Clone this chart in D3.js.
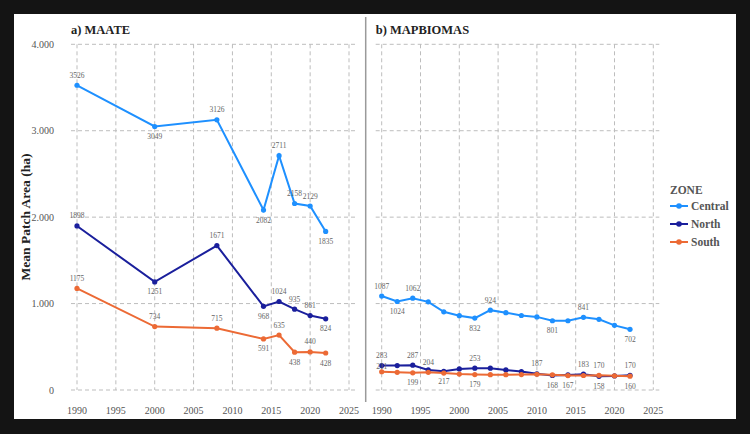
<!DOCTYPE html>
<html>
<head>
<meta charset="utf-8">
<script src="https://cdn.jsdelivr.net/npm/d3@7"></script>
<style>
  body { margin: 0; background: #141414; }
  svg { display: block; }
</style>
</head>
<body>
<svg id="chart" width="750" height="434"></svg>
<script>
// MAATE data
var maateYears = [1990, 2000, 2008, 2014, 2016, 2018, 2020, 2022];
var maateCentral = [3526, 3049, 3126, 2082, 2711, 2158, 2129, 1835];
var maateNorth = [1898, 1251, 1671, 968, 1024, 935, 861, 824];
var maateSouth = [1175, 734, 715, 591, 635, 438, 440, 428];
// label side: 1 above, -1 below, 0 none
var maateCentralLbl = [1, -1, 1, -1, 1, 1, 1, -1];
var maateNorthLbl = [1, -1, 1, -1, 1, 1, 1, -1];
var maateSouthLbl = [1, 1, 1, -1, 1, -1, 1, -1];

// MAPBIOMAS data
var mbYears = [1990, 1992, 1994, 1996, 1998, 2000, 2002, 2004, 2006, 2008, 2010, 2012, 2014, 2016, 2018, 2020, 2022];
var mbCentral = [1087, 1024, 1062, 1020, 905, 860, 832, 924, 895, 862, 846, 801, 801, 841, 818, 748, 702];
var mbNorth = [283, 283, 287, 232, 217, 244, 253, 252, 232, 213, 187, 168, 174, 183, 158, 163, 170];
var mbSouth = [211, 205, 199, 204, 196, 184, 179, 177, 177, 179, 182, 176, 167, 168, 170, 164, 160];
var mbCentralLbl = [1, -1, 1, 0, 0, 0, -1, 1, 0, 0, 0, -1, 0, 1, 0, 0, -1];
var mbNorthLbl = [1, 0, 1, 0, -1, 0, 1, 0, 0, 0, 1, -1, 0, 1, -1, 0, 1];
var mbSouthLbl = [0.55, 0, -1, 1, 0, 0, -1, 0, 0, 0, 0, 0, -1, 0, 1, 0, -1];

var zones = ["Central", "North", "South"];
var zoneColors = ["#1e90ff", "#1a1f9c", "#ec6a35"];
var yTicks = [0, 1000, 2000, 3000, 4000];
var xTicks = [1990, 1995, 2000, 2005, 2010, 2015, 2020, 2025];

var svg = d3.select("#chart");
var serif = "'Liberation Serif', 'Times New Roman', serif";

// white card
svg.append("rect").attr("x", 14).attr("y", 14).attr("width", 722).attr("height", 405).attr("fill", "#fff");

// divider
svg.append("line").attr("x1", 365.7).attr("x2", 365.7).attr("y1", 17).attr("y2", 402)
    .attr("stroke", "#9a9a9a").attr("stroke-width", 1.5);

var yFmt = function(d) { return d === 0 ? "0" : d3.format(",")(d).replace(",", "."); };

function drawPanel(opts) {
    var x = d3.scaleLinear().domain([1990, 2025]).range([opts.x0, opts.x1]);
    var y = d3.scaleLinear().domain([0, 4000]).range([390, 44.3]);
    var g = svg.append("g");

    // grid
    g.selectAll("line.hg").data(yTicks).enter().append("line")
        .attr("x1", opts.x0 - 6).attr("x2", opts.x1 + 6)
        .attr("y1", function(d) { return y(d); }).attr("y2", function(d) { return y(d); })
        .attr("stroke", "#bdbdbd").attr("stroke-width", 1).attr("stroke-dasharray", "4,3");
    g.selectAll("line.vg").data(xTicks).enter().append("line")
        .attr("x1", function(d) { return x(d); }).attr("x2", function(d) { return x(d); })
        .attr("y1", y(4000)).attr("y2", y(0))
        .attr("stroke", "#bdbdbd").attr("stroke-width", 1).attr("stroke-dasharray", "4,3");

    // x ticks
    g.selectAll("text.xt").data(xTicks).enter().append("text")
        .attr("x", function(d) { return x(d); }).attr("y", 414)
        .attr("text-anchor", "middle").attr("font-family", serif).attr("font-size", "10px")
        .attr("fill", "#555").text(String);

    if (opts.yLabels) {
        g.selectAll("text.yt").data(yTicks).enter().append("text")
            .attr("x", 54).attr("y", function(d) { return y(d) + 3.5; })
            .attr("text-anchor", "end").attr("font-family", serif).attr("font-size", "10px")
            .attr("fill", "#555").text(yFmt);
    }

    // title
    g.append("text").attr("x", opts.x0 - 6).attr("y", 34)
        .attr("font-family", serif).attr("font-size", "12.5px").attr("font-weight", "bold")
        .attr("fill", "#222").text(opts.title);

    var line = d3.line().x(function(d) { return x(d[0]); }).y(function(d) { return y(d[1]); });

    opts.series.forEach(function(vals, si) {
        var pts = opts.years.map(function(yr, i) { return [yr, vals[i], opts.labels[si][i]]; });
        var c = zoneColors[si];
        g.append("path").datum(pts).attr("d", line)
            .attr("fill", "none").attr("stroke", c).attr("stroke-width", 2);
        g.selectAll("circle.s" + si).data(pts).enter().append("circle")
            .attr("cx", function(d) { return x(d[0]); }).attr("cy", function(d) { return y(d[1]); })
            .attr("r", 2.6).attr("fill", c);
        g.selectAll("text.l" + si).data(pts.filter(function(d) { return d[2] !== 0; })).enter().append("text")
            .attr("x", function(d) { return x(d[0]); })
            .attr("y", function(d) { return y(d[1]) - d[2] * 10 + 2.5; })
            .attr("text-anchor", "middle").attr("font-family", serif).attr("font-size", "7.5px")
            .attr("fill", "#666").text(function(d) { return d[1]; });
    });
}

drawPanel({
    x0: 77, x1: 349, title: "a) MAATE", yLabels: true,
    years: maateYears,
    series: [maateCentral, maateNorth, maateSouth],
    labels: [maateCentralLbl, maateNorthLbl, maateSouthLbl]
});

drawPanel({
    x0: 381.7, x1: 653.3, title: "b) MAPBIOMAS", yLabels: false,
    years: mbYears,
    series: [mbCentral, mbNorth, mbSouth],
    labels: [mbCentralLbl, mbNorthLbl, mbSouthLbl]
});

// y axis title
svg.append("text").attr("transform", "translate(30,217) rotate(-90)")
    .attr("text-anchor", "middle").attr("font-family", serif).attr("font-size", "13.5px")
    .attr("font-weight", "bold").attr("fill", "#222").text("Mean Patch Area (ha)");

// legend
var lg = svg.append("g").attr("transform", "translate(670,0)");
lg.append("text").attr("x", 0).attr("y", 194).attr("font-family", serif).attr("font-size", "11.5px")
    .attr("font-weight", "bold").attr("fill", "#555").text("ZONE");
zones.forEach(function(z, i) {
    var cy = 206 + i * 18;
    lg.append("line").attr("x1", 0).attr("x2", 18).attr("y1", cy).attr("y2", cy)
        .attr("stroke", zoneColors[i]).attr("stroke-width", 2);
    lg.append("circle").attr("cx", 9).attr("cy", cy).attr("r", 2.8).attr("fill", zoneColors[i]);
    lg.append("text").attr("x", 21).attr("y", cy + 4).attr("font-family", serif).attr("font-size", "11.5px")
        .attr("font-weight", "bold").attr("fill", "#555").text(z);
});
</script>
</body>
</html>
